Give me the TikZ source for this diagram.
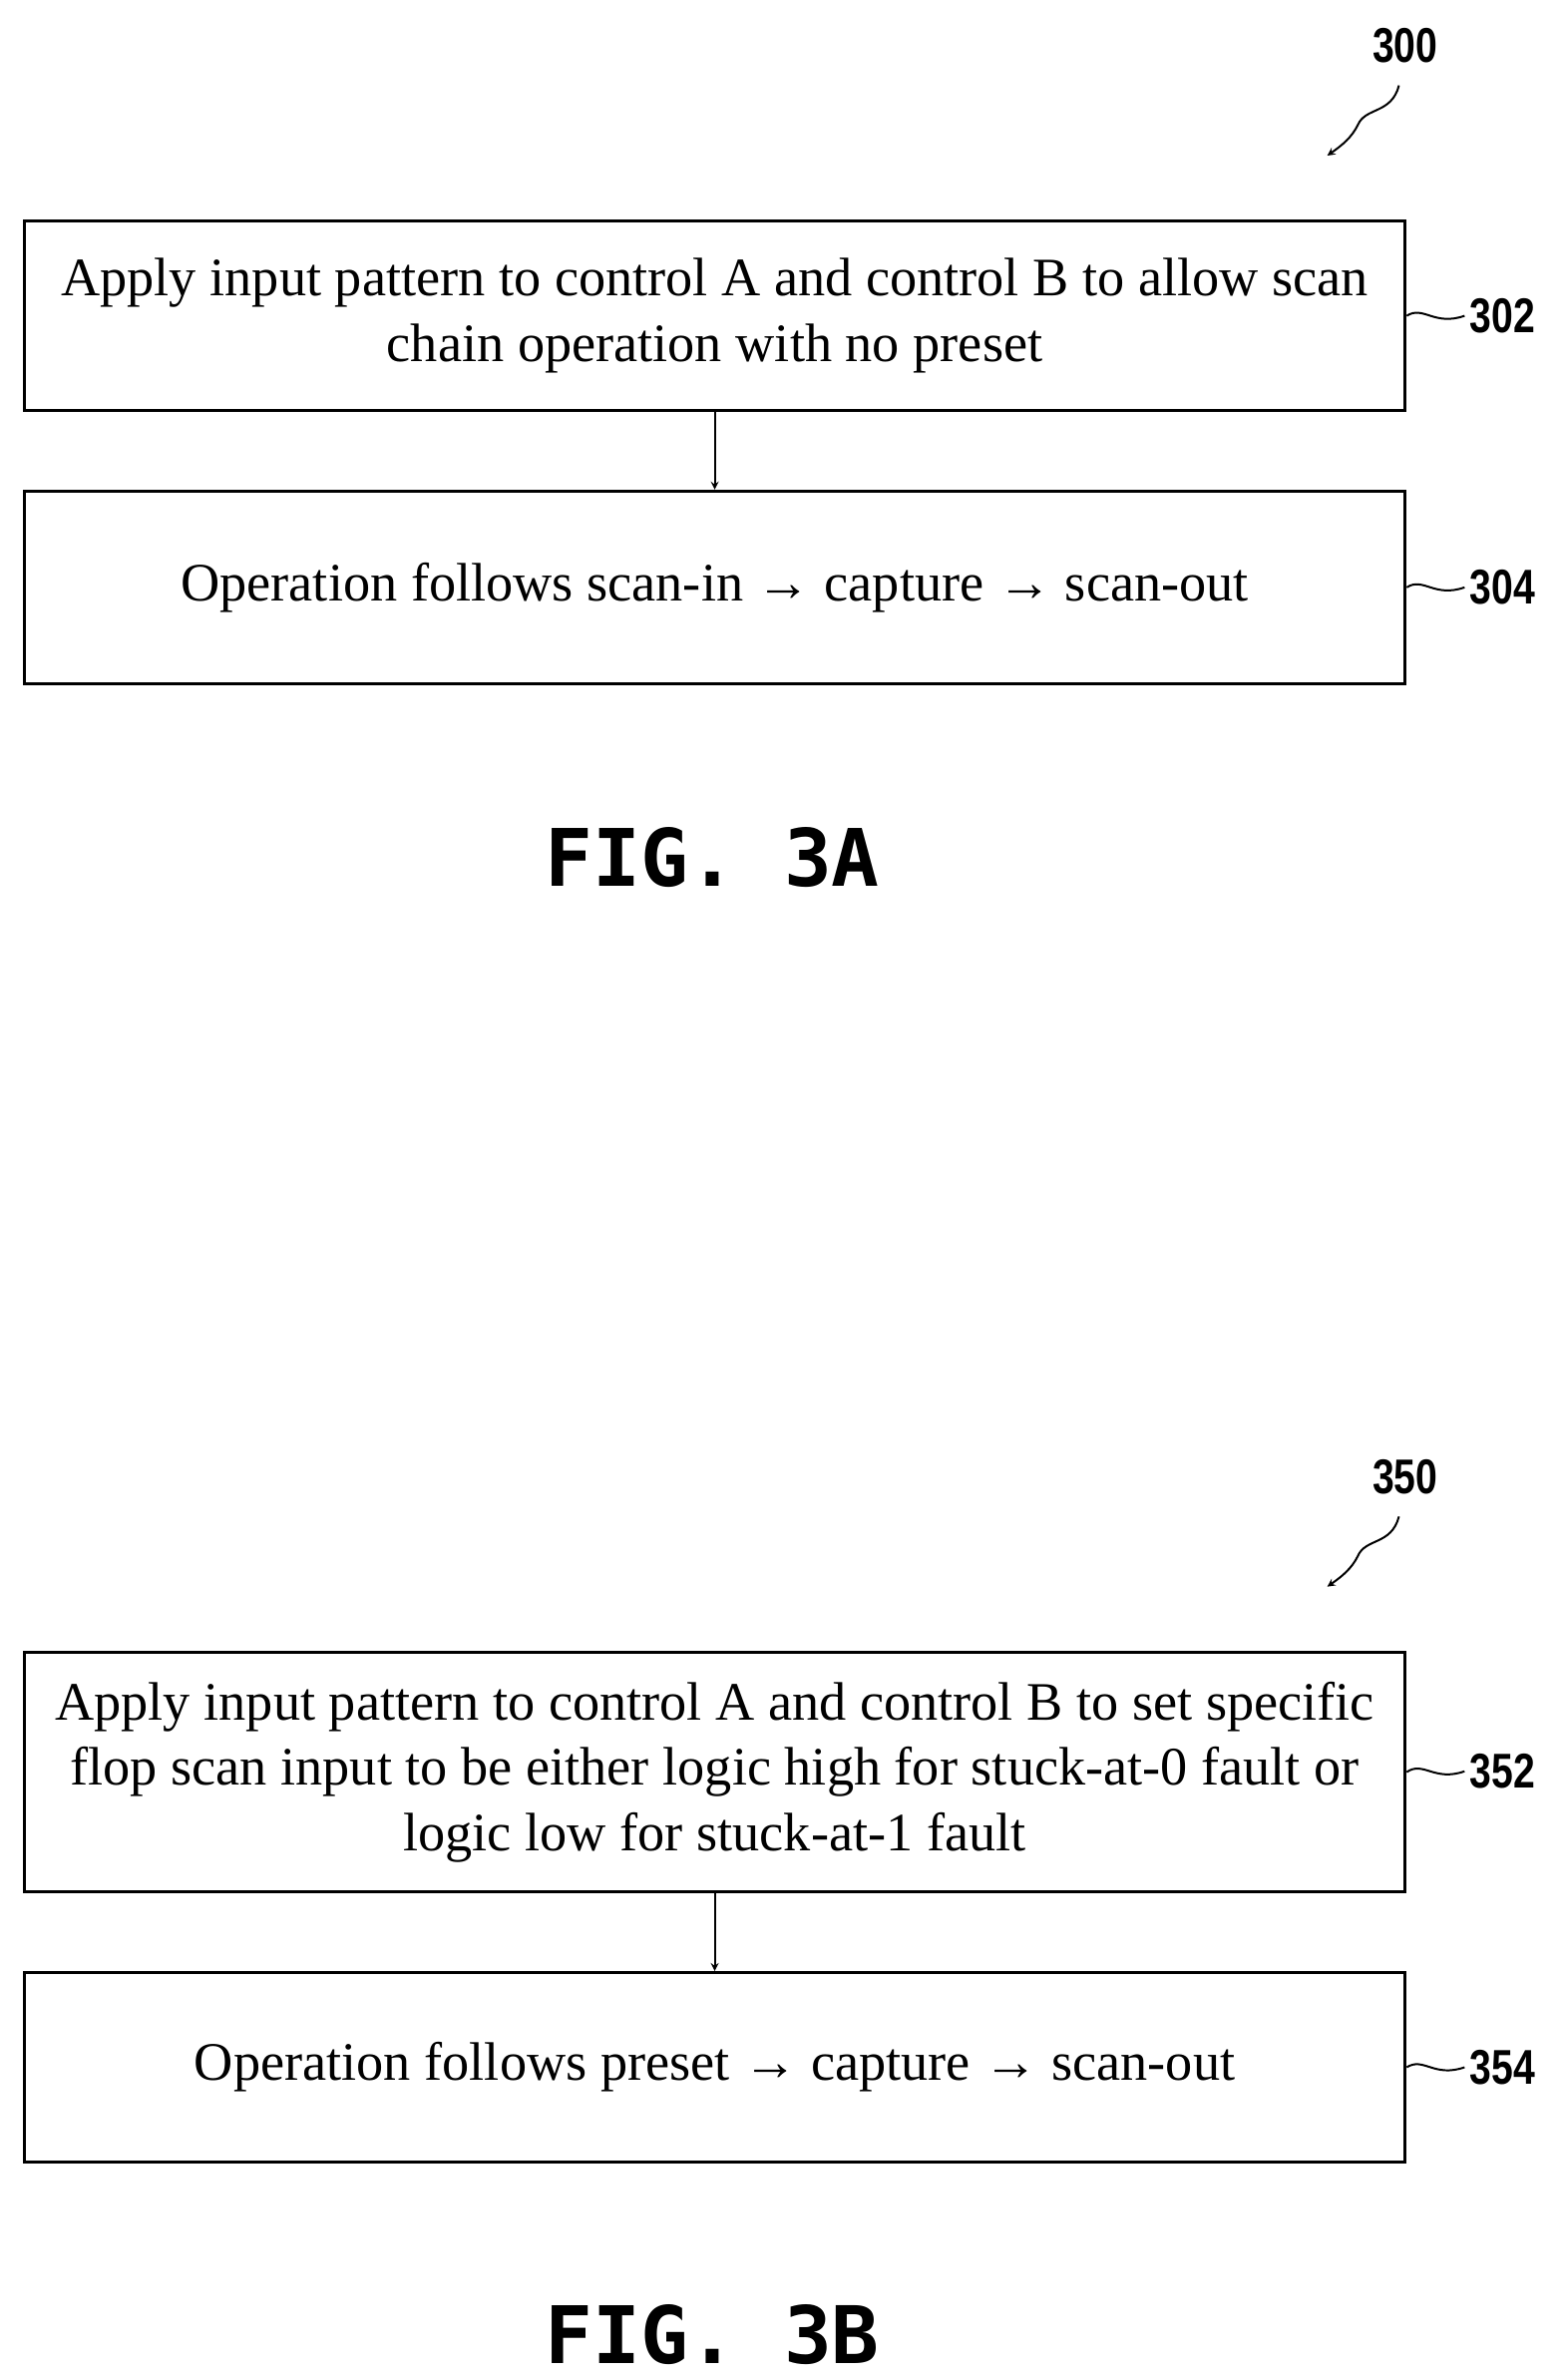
\documentclass[tikz,border=0pt]{standalone}
\usepackage{fontspec}
\setmainfont{Liberation Serif}
\newfontfamily\numfont[FakeStretch=0.8]{Liberation Sans}
\newfontfamily\figfont{DejaVu Sans Mono}
\usetikzlibrary{positioning}
\tikzset{
  stepbox/.style={draw,line width=2.2pt,minimum width=905pt,align=center,
    font=\fontsize{35.5}{43}\selectfont},
  reflabel/.style={font=\numfont\bfseries\fontsize{32}{32}\selectfont},
  figlabel/.style={font=\figfont\bfseries\fontsize{52}{52}\selectfont},
  leader/.style={line width=1.3pt},
  flow/.style={->,>=stealth,line width=1.3pt}
}
\begin{document}
\begin{tikzpicture}[x=1pt,y=-1pt]
\useasboundingbox (0,0) rectangle (1024,1560);
% FIG. 3A
\node[reflabel] (n300) at (921,30) {300};
\draw[flow] (917,56) .. controls (912,75) and (895,70) .. (890,82) .. controls (886,90) and (880,95) .. (870,102);
\node[stepbox,minimum height=124pt] (s302) at (468.5,207) {Apply input pattern to control A and control B to allow scan\\chain operation with no preset};
\node[stepbox,minimum height=126pt] (s304) at (468.5,385) {Operation follows scan-in → capture → scan-out};
\draw[flow] (s302) -- (s304);
\node[reflabel,anchor=west] (n302) at (960,207) {302};
\node[reflabel,anchor=west] (n304) at (960,385) {304};
\draw[leader] (s302.east) .. controls (933,200) and (940,214) .. (n302.west);
\draw[leader] (s304.east) .. controls (933,378) and (940,392) .. (n304.west);
\node[figlabel] (fig3a) at (467,562) {FIG. 3A};
% FIG. 3B
\node[reflabel] (n350) at (921,968) {350};
\draw[flow] (917,994) .. controls (912,1013) and (895,1008) .. (890,1020) .. controls (886,1028) and (880,1033) .. (870,1040);
\node[stepbox,minimum height=157pt] (s352) at (468.5,1161.5) {Apply input pattern to control A and control B to set specific\\flop scan input to be either logic high for stuck-at-0 fault or\\logic low for stuck-at-1 fault};
\node[stepbox,minimum height=124pt] (s354) at (468.5,1355) {Operation follows preset → capture → scan-out};
\draw[flow] (s352) -- (s354);
\node[reflabel,anchor=west] (n352) at (960,1161) {352};
\node[reflabel,anchor=west] (n354) at (960,1355) {354};
\draw[leader] (s352.east) .. controls (933,1154) and (940,1168) .. (n352.west);
\draw[leader] (s354.east) .. controls (933,1348) and (940,1362) .. (n354.west);
\node[figlabel] (fig3b) at (467,1530) {FIG. 3B};
\end{tikzpicture}
\end{document}
